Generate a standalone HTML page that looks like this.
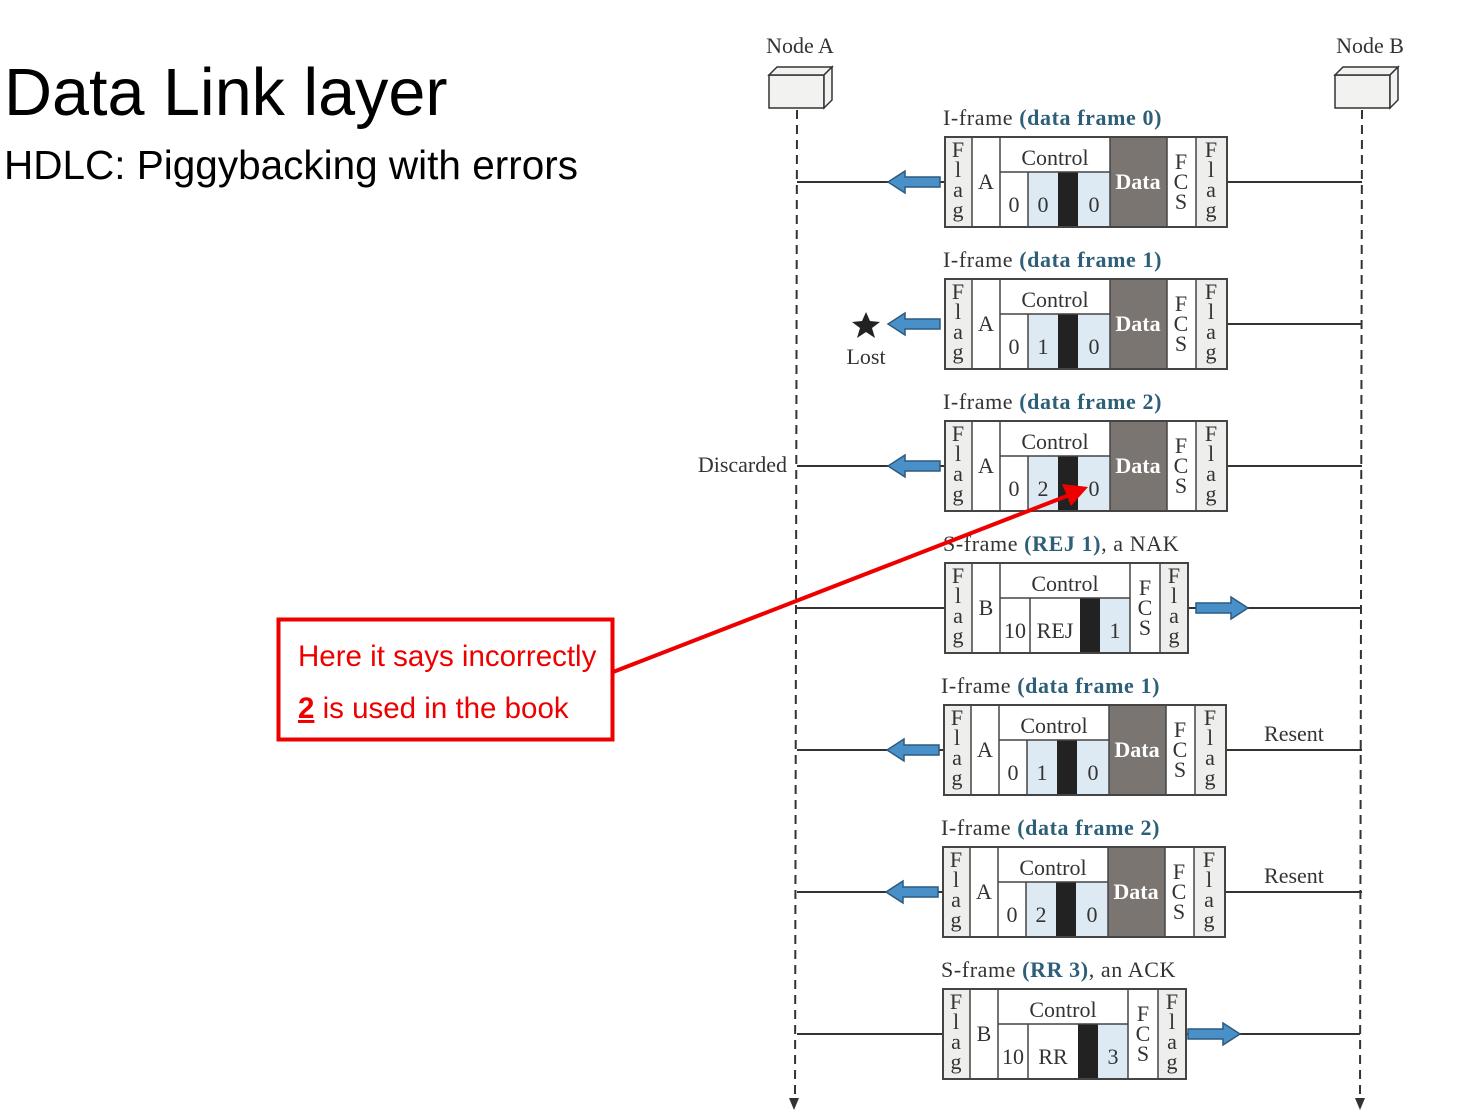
<!DOCTYPE html>
<html><head><meta charset="utf-8"><style>
html,body{margin:0;padding:0;background:#fff;width:1461px;height:1112px;overflow:hidden}
svg{display:block}
.t{font-family:"Liberation Serif",serif;font-size:22px;fill:#333}
.ti{font-family:"Liberation Serif",serif;font-size:22px;fill:#333;letter-spacing:0.6px}
.b{fill:#2e5f78;font-weight:bold}
.c{text-anchor:middle}
.s{font-family:"Liberation Sans",sans-serif}
</style></head><body>
<svg width="1461" height="1112" viewBox="0 0 1461 1112">
<defs>
<g id="ibox">
<rect x="0" y="0" width="282" height="90" fill="#fff" stroke="#444" stroke-width="2"/>
<rect x="1" y="1" width="26" height="88" fill="#eeeeec"/>
<rect x="251" y="1" width="30" height="88" fill="#eeeeec"/>
<rect x="165" y="1" width="57" height="88" fill="#7b7572"/>
<rect x="83" y="35" width="30" height="54" fill="#dde9f3"/>
<rect x="133" y="35" width="32" height="54" fill="#dde9f3"/>
<rect x="113" y="35" width="20" height="54" fill="#222"/>
<g stroke="#444" stroke-width="1.5">
<line x1="27" y1="0" x2="27" y2="90"/><line x1="55" y1="0" x2="55" y2="90"/>
<line x1="165" y1="0" x2="165" y2="90"/><line x1="222" y1="0" x2="222" y2="90"/>
<line x1="251" y1="0" x2="251" y2="90"/><line x1="55" y1="35" x2="165" y2="35"/>
<line x1="83" y1="35" x2="83" y2="90"/>
</g></g>
<g id="sbox">
<rect x="0" y="0" width="243" height="90" fill="#fff" stroke="#444" stroke-width="2"/>
<rect x="1" y="1" width="26" height="88" fill="#eeeeec"/>
<rect x="215" y="1" width="27" height="88" fill="#eeeeec"/>
<rect x="155" y="35" width="30" height="54" fill="#dde9f3"/>
<rect x="135" y="35" width="20" height="54" fill="#222"/>
<g stroke="#444" stroke-width="1.5">
<line x1="27" y1="0" x2="27" y2="90"/><line x1="55" y1="0" x2="55" y2="90"/>
<line x1="185" y1="0" x2="185" y2="90"/><line x1="215" y1="0" x2="215" y2="90"/>
<line x1="55" y1="35" x2="185" y2="35"/><line x1="85" y1="35" x2="85" y2="90"/>
</g></g>
<g id="larr"><polygon points="0,0 17,-11 17,-5 52,-5 52,5 17,5 17,11" fill="#4a90c8" stroke="#2a5a80" stroke-width="1.5"/></g>
<g id="rarr"><polygon points="52,0 35,-11 35,-5 0,-5 0,5 35,5 35,11" fill="#4a90c8" stroke="#2a5a80" stroke-width="1.5"/></g>
</defs>

<text x="4" y="115" class="s" font-size="66.5" fill="#000">Data Link layer</text>
<text x="4" y="179" class="s" font-size="40.5" fill="#000">HDLC: Piggybacking with errors</text>

<text x="800" y="53" class="t c">Node A</text>
<text x="1370" y="53" class="t c">Node B</text>
<g fill="#f2f2f0" stroke="#333" stroke-width="1.5">
<rect x="769" y="75" width="55" height="33"/><polygon points="769,75 777,67 832,67 824,75"/><polygon points="824,75 832,67 832,100 824,108"/>
<rect x="1335" y="75" width="55" height="33"/><polygon points="1335,75 1343,67 1398,67 1390,75"/><polygon points="1390,75 1398,67 1398,100 1390,108"/>
</g>
<g stroke="#333" stroke-width="2" stroke-dasharray="9,6">
<line x1="797" y1="110" x2="795" y2="1100"/><line x1="1362" y1="110" x2="1360" y2="1100"/>
</g>
<polygon points="789,1098 799,1098 794,1110" fill="#333"/>
<polygon points="1355,1098 1365,1098 1360,1110" fill="#333"/>

<!-- frame 0 -->
<text x="943" y="125" class="ti">I-frame <tspan class="b">(data frame 0)</tspan></text>
<line x1="797" y1="182" x2="945" y2="182" stroke="#333" stroke-width="2"/>
<line x1="1227" y1="182" x2="1362" y2="182" stroke="#333" stroke-width="2"/>
<use href="#ibox" x="945" y="137"/>
<use href="#larr" x="888" y="182"/>
<g class="t c" transform="translate(945,137)">
<text x="13" y="20">F</text><text x="13" y="40">l</text><text x="13" y="60">a</text><text x="13" y="80">g</text>
<text x="41" y="52">A</text><text x="110" y="28">Control</text>
<text x="69" y="75">0</text><text x="98" y="75">0</text><text x="149" y="75">0</text>
<text x="193" y="52" font-weight="bold" style="fill:#fff">Data</text>
<text x="236" y="32">F</text><text x="236" y="52">C</text><text x="236" y="72">S</text>
<text x="266" y="20">F</text><text x="266" y="40">l</text><text x="266" y="60">a</text><text x="266" y="80">g</text>
</g>

<!-- frame 1 lost -->
<text x="943" y="267" class="ti">I-frame <tspan class="b">(data frame 1)</tspan></text>
<line x1="1227" y1="324" x2="1362" y2="324" stroke="#333" stroke-width="2"/>
<use href="#ibox" x="945" y="279"/>
<use href="#larr" x="888" y="324"/>
<polygon points="866,312 870,321 880,322 872,328 875,338 866,332 857,338 860,328 852,322 862,321" fill="#222"/>
<text x="866" y="364" class="t c">Lost</text>
<g class="t c" transform="translate(945,279)">
<text x="13" y="20">F</text><text x="13" y="40">l</text><text x="13" y="60">a</text><text x="13" y="80">g</text>
<text x="41" y="52">A</text><text x="110" y="28">Control</text>
<text x="69" y="75">0</text><text x="98" y="75">1</text><text x="149" y="75">0</text>
<text x="193" y="52" font-weight="bold" style="fill:#fff">Data</text>
<text x="236" y="32">F</text><text x="236" y="52">C</text><text x="236" y="72">S</text>
<text x="266" y="20">F</text><text x="266" y="40">l</text><text x="266" y="60">a</text><text x="266" y="80">g</text>
</g>

<!-- frame 2 discarded -->
<text x="943" y="409" class="ti">I-frame <tspan class="b">(data frame 2)</tspan></text>
<line x1="797" y1="466" x2="945" y2="466" stroke="#333" stroke-width="2"/>
<line x1="1227" y1="466" x2="1362" y2="466" stroke="#333" stroke-width="2"/>
<text x="787" y="472" class="t" text-anchor="end">Discarded</text>
<use href="#ibox" x="945" y="421"/>
<use href="#larr" x="888" y="466"/>
<g class="t c" transform="translate(945,421)">
<text x="13" y="20">F</text><text x="13" y="40">l</text><text x="13" y="60">a</text><text x="13" y="80">g</text>
<text x="41" y="52">A</text><text x="110" y="28">Control</text>
<text x="69" y="75">0</text><text x="98" y="75">2</text><text x="149" y="75">0</text>
<text x="193" y="52" font-weight="bold" style="fill:#fff">Data</text>
<text x="236" y="32">F</text><text x="236" y="52">C</text><text x="236" y="72">S</text>
<text x="266" y="20">F</text><text x="266" y="40">l</text><text x="266" y="60">a</text><text x="266" y="80">g</text>
</g>

<!-- S-frame REJ -->
<text x="943" y="551" class="ti">S-frame <tspan class="b">(REJ 1)</tspan>, a NAK</text>
<line x1="797" y1="608" x2="945" y2="608" stroke="#333" stroke-width="2"/>
<line x1="1188" y1="608" x2="1362" y2="608" stroke="#333" stroke-width="2"/>
<use href="#sbox" x="945" y="563"/>
<use href="#rarr" x="1196" y="608"/>
<g class="t c" transform="translate(945,563)">
<text x="13" y="20">F</text><text x="13" y="40">l</text><text x="13" y="60">a</text><text x="13" y="80">g</text>
<text x="41" y="52">B</text><text x="120" y="28">Control</text>
<text x="70" y="75">10</text><text x="110" y="75">REJ</text><text x="170" y="75">1</text>
<text x="200" y="32">F</text><text x="200" y="52">C</text><text x="200" y="72">S</text>
<text x="229" y="20">F</text><text x="229" y="40">l</text><text x="229" y="60">a</text><text x="229" y="80">g</text>
</g>

<!-- frame 1 resent -->
<text x="941" y="693" class="ti">I-frame <tspan class="b">(data frame 1)</tspan></text>
<line x1="797" y1="750" x2="945" y2="750" stroke="#333" stroke-width="2"/>
<line x1="1226" y1="750" x2="1362" y2="750" stroke="#333" stroke-width="2"/>
<text x="1294" y="741" class="t c">Resent</text>
<use href="#ibox" x="944" y="705"/>
<use href="#larr" x="887" y="750"/>
<g class="t c" transform="translate(944,705)">
<text x="13" y="20">F</text><text x="13" y="40">l</text><text x="13" y="60">a</text><text x="13" y="80">g</text>
<text x="41" y="52">A</text><text x="110" y="28">Control</text>
<text x="69" y="75">0</text><text x="98" y="75">1</text><text x="149" y="75">0</text>
<text x="193" y="52" font-weight="bold" style="fill:#fff">Data</text>
<text x="236" y="32">F</text><text x="236" y="52">C</text><text x="236" y="72">S</text>
<text x="266" y="20">F</text><text x="266" y="40">l</text><text x="266" y="60">a</text><text x="266" y="80">g</text>
</g>

<!-- frame 2 resent -->
<text x="941" y="835" class="ti">I-frame <tspan class="b">(data frame 2)</tspan></text>
<line x1="797" y1="892" x2="944" y2="892" stroke="#333" stroke-width="2"/>
<line x1="1225" y1="892" x2="1362" y2="892" stroke="#333" stroke-width="2"/>
<text x="1294" y="883" class="t c">Resent</text>
<use href="#ibox" x="943" y="847"/>
<use href="#larr" x="886" y="892"/>
<g class="t c" transform="translate(943,847)">
<text x="13" y="20">F</text><text x="13" y="40">l</text><text x="13" y="60">a</text><text x="13" y="80">g</text>
<text x="41" y="52">A</text><text x="110" y="28">Control</text>
<text x="69" y="75">0</text><text x="98" y="75">2</text><text x="149" y="75">0</text>
<text x="193" y="52" font-weight="bold" style="fill:#fff">Data</text>
<text x="236" y="32">F</text><text x="236" y="52">C</text><text x="236" y="72">S</text>
<text x="266" y="20">F</text><text x="266" y="40">l</text><text x="266" y="60">a</text><text x="266" y="80">g</text>
</g>

<!-- S-frame RR -->
<text x="941" y="977" class="ti">S-frame <tspan class="b">(RR 3)</tspan>, an ACK</text>
<line x1="797" y1="1034" x2="943" y2="1034" stroke="#333" stroke-width="2"/>
<line x1="1182" y1="1034" x2="1360" y2="1034" stroke="#333" stroke-width="2"/>
<use href="#sbox" x="943" y="989"/>
<use href="#rarr" x="1188" y="1034"/>
<g class="t c" transform="translate(943,989)">
<text x="13" y="20">F</text><text x="13" y="40">l</text><text x="13" y="60">a</text><text x="13" y="80">g</text>
<text x="41" y="52">B</text><text x="120" y="28">Control</text>
<text x="70" y="75">10</text><text x="110" y="75">RR</text><text x="170" y="75">3</text>
<text x="200" y="32">F</text><text x="200" y="52">C</text><text x="200" y="72">S</text>
<text x="229" y="20">F</text><text x="229" y="40">l</text><text x="229" y="60">a</text><text x="229" y="80">g</text>
</g>

<!-- annotation -->
<line x1="613" y1="672" x2="1072" y2="494" stroke="#ee0000" stroke-width="4"/>
<polygon points="1088,487 1062,484 1071,506" fill="#ee0000"/>
<rect x="278.5" y="619.5" width="334" height="120" fill="none" stroke="#ee0000" stroke-width="4"/>
<text x="298" y="666" class="s" font-size="29.5" fill="#ee0000">Here it says incorrectly</text>
<text x="298" y="718" class="s" font-size="29.5" fill="#ee0000"><tspan font-weight="bold" text-decoration="underline">2</tspan> is used in the book</text>
</svg>
</body></html>
